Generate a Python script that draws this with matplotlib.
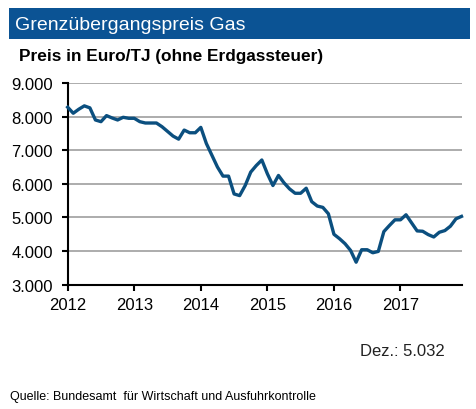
import matplotlib
matplotlib.use("Agg")
import matplotlib.pyplot as plt
from matplotlib.patches import Rectangle
from matplotlib.ticker import FuncFormatter

plt.rcParams['font.family'] = ['Liberation Sans', 'DejaVu Sans']

# Monthly prices, Jan 2012 .. Dec 2017 (Euro/TJ)
prices = [
    8280, 8100, 8220, 8320, 8260, 7900, 7850, 8030, 7960, 7900, 7980, 7950,  # 2012
    7950, 7850, 7810, 7810, 7810, 7700, 7560, 7420, 7330, 7600, 7520, 7520,  # 2013
    7680, 7200, 6850, 6500, 6230, 6230, 5700, 5650, 5950, 6350, 6545, 6710,  # 2014
    6300, 5950, 6250, 6030, 5850, 5720, 5720, 5870, 5470, 5340, 5300, 5110,  # 2015
    4500, 4370, 4220, 4020, 3670, 4040, 4040, 3950, 3990, 4580, 4760, 4930,  # 2016
    4930, 5080, 4840, 4600, 4590, 4490, 4420, 4560, 4610, 4740, 4960, 5032,  # 2017
]
start_year = 2012
year_labels = ["2012", "2013", "2014", "2015", "2016", "2017"]
y_ticks = [3000, 4000, 5000, 6000, 7000, 8000, 9000]

title = "Grenzübergangspreis Gas"
subtitle = "Preis in Euro/TJ (ohne Erdgassteuer)"
last_note = "Dez.: 5.032"
source = "Quelle: Bundesamt  für Wirtschaft und Ausfuhrkontrolle"

x = [start_year + i / 12 for i in range(len(prices))]

fig = plt.figure(figsize=(4.76, 4.10), dpi=100)
fig.patch.set_facecolor('white')

# title bar
fig.patches.append(Rectangle((9 / 476, 1 - 40 / 410), 461 / 476, 31 / 410,
                             transform=fig.transFigure, facecolor='#0b5394',
                             edgecolor='none'))
fig.text(15 / 476, 1 - 25 / 410, title, color='white', fontsize=14,
         va='center', ha='left')
fig.text(19 / 476, 1 - 56 / 410, subtitle, color='black', fontsize=12.4,
         fontweight='bold', va='center', ha='left')

ax = fig.add_axes([67.7 / 476, 1 - 285.7 / 410, (461.5 - 67.7) / 476,
                   (285.7 - 84) / 410])
ax.plot(x, prices, color='#0b4f7f', lw=2.4, solid_joinstyle='round',
        clip_on=False, zorder=3)

ax.set_ylim(3000, 9000)
ax.set_xlim(start_year, start_year + (len(prices) - 1) / 12)
ax.set_yticks(y_ticks)
ax.yaxis.set_major_formatter(FuncFormatter(lambda v, p: f"{int(v):,}".replace(",", ".")))
ax.set_xticks([start_year + k for k in range(len(year_labels))])
ax.set_xticklabels(year_labels)

ax.grid(axis='y', color='#a6a6a6', lw=1.3)
ax.set_axisbelow(True)
for s in ['top', 'right']:
    ax.spines[s].set_visible(False)
for s in ['left', 'bottom']:
    ax.spines[s].set_linewidth(1.5)
    ax.spines[s].set_color('black')
ax.tick_params(axis='both', length=4.5, width=1.5, labelsize=12, colors='black')
ax.tick_params(axis='y', pad=6)
ax.tick_params(axis='x', pad=4)

fig.text(445 / 476, 1 - 352 / 410, last_note, fontsize=12, ha='right',
         va='center', color='#222222')
fig.text(10 / 476, 1 - 397 / 410, source, fontsize=9, ha='left',
         va='center', color='black')

fig.savefig('out.png', dpi=100)
